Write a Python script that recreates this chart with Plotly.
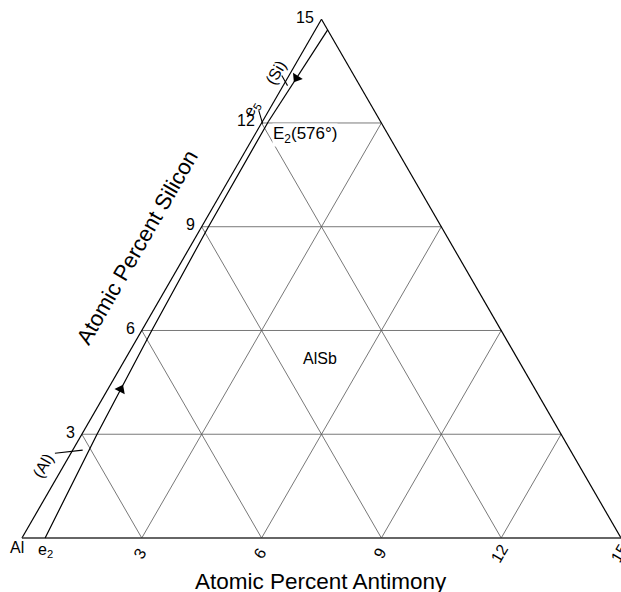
import numpy as np
import plotly.graph_objects as go

# ---------------- data (at.% Sb, at.% Si) ----------------
axis_max = 15
grid_values = [3, 6, 9, 12]
si_tick_values = [3, 6, 9, 12, 15]
si_tick_labels = ["3", "6", "9", "12", "15"]
sb_tick_values = [3, 6, 9, 12, 15]
sb_tick_labels = ["3", "6", "9", "12", "15"]

# univariant valley e2 -> E2
valley_sb = [0.58, 0.38, 0.25, 0.17, 0.15]
valley_si = [0.0, 3.0, 6.0, 9.0, 12.05]
# (Si) valley coming down to E2
si_valley_sb = [0.31, 0.15]
si_valley_si = [14.69, 12.05]
# arrow positions (at.% Si along each valley)
arrow_up_si = 4.3
arrow_down_si = 13.3
# leader lines for labels
al_leader_sb, al_leader_si = [-0.40, 0.25], [2.45, 2.54]
si_leader_sb, si_leader_si = [-0.18, 0.11], [13.37, 13.08]
e5_leader_sb, e5_leader_si = [-0.25, 0.035], [12.36, 11.98]

SQ3 = np.sqrt(3) / 2


def tern(sb, si):
    sb = np.asarray(sb, dtype=float)
    si = np.asarray(si, dtype=float)
    return sb + si / 2.0, si * SQ3


fig = go.Figure()

# grid lattice
gx, gy = [], []
for k in grid_values:
    for seg in [((0, k), (axis_max - k, k)),      # constant Si
                ((k, 0), (k, axis_max - k)),      # constant Sb
                ((k, 0), (0, k))]:                # constant Al
        x, y = tern([seg[0][0], seg[1][0]], [seg[0][1], seg[1][1]])
        gx += list(x) + [None]
        gy += list(y) + [None]
fig.add_trace(go.Scatter(x=gx, y=gy, mode="lines",
                         line=dict(color="#555555", width=0.8), hoverinfo="skip"))

# triangle edges
ex, ey = tern([0, axis_max, 0, 0], [0, 0, axis_max, 0])
fig.add_trace(go.Scatter(x=ex[1:3], y=ey[1:3], mode="lines",
                         line=dict(color="black", width=1.2), hoverinfo="skip"))
fig.add_trace(go.Scatter(x=ex[2:4], y=ey[2:4], mode="lines",
                         line=dict(color="black", width=1.2), hoverinfo="skip"))
fig.add_trace(go.Scatter(x=ex[0:2], y=ey[0:2], mode="lines",
                         line=dict(color="#333333", width=1.7), hoverinfo="skip"))

# valleys
vx, vy = tern(valley_sb, valley_si)
fig.add_trace(go.Scatter(x=vx, y=vy, mode="lines",
                         line=dict(color="black", width=1.2), hoverinfo="skip"))
sx, sy = tern(si_valley_sb, si_valley_si)
fig.add_trace(go.Scatter(x=sx, y=sy, mode="lines",
                         line=dict(color="black", width=1.2), hoverinfo="skip"))

# leader lines
for lsb, lsi in [(al_leader_sb, al_leader_si), (si_leader_sb, si_leader_si),
                 (e5_leader_sb, e5_leader_si)]:
    lx, ly = tern(lsb, lsi)
    fig.add_trace(go.Scatter(x=lx, y=ly, mode="lines",
                             line=dict(color="black", width=1.1), hoverinfo="skip"))

# arrows
ua_sb = np.interp(arrow_up_si, valley_si, valley_sb)
ux, uy = tern([ua_sb], [arrow_up_si])
fig.add_trace(go.Scatter(x=ux, y=uy, mode="markers",
                         marker=dict(symbol="triangle-up", size=10, color="black",
                                     angle=27, line=dict(width=0)), hoverinfo="skip"))
da_sb = np.interp(arrow_down_si, si_valley_si[::-1], si_valley_sb[::-1])
dx, dy = tern([da_sb], [arrow_down_si])
fig.add_trace(go.Scatter(x=dx, y=dy, mode="markers",
                         marker=dict(symbol="triangle-down", size=10, color="black",
                                     angle=32, line=dict(width=0)), hoverinfo="skip"))

FONT = "Liberation Sans, Arial, Helvetica, sans-serif"
ann = []


def add_text(text, sb, si, size=16, angle=0, xanchor="center", yanchor="middle",
             xshift=0, yshift=0, bg=None):
    x, y = tern(sb, si)
    d = dict(text=text, x=float(x), y=float(y), xref="x", yref="y", showarrow=False,
             font=dict(family=FONT, size=size, color="black"), textangle=angle,
             xanchor=xanchor, yanchor=yanchor, xshift=xshift, yshift=yshift)
    if bg:
        d["bgcolor"] = bg
        d["borderpad"] = 0
    ann.append(d)


for v, lab in zip(si_tick_values, si_tick_labels):
    add_text(lab, 0, v, xanchor="right", xshift=-5, yshift=2)
for v, lab in zip(sb_tick_values, sb_tick_labels):
    add_text(lab, v, 0, angle=-60, xshift=-2, yshift=-15)

add_text("Al", 0, 0, xshift=-5, yshift=-9)
add_text("e<sub>2</sub>", valley_sb[0], 0, xshift=0, yshift=-12)
add_text("AlSb", 4.86, 5.2)
add_text("E<sub>2</sub>(576°)", 1.25, 11.65, size=17, bg="white")
add_text("e<sub>5</sub>", -0.45, 12.42, angle=-60)
add_text("(Si)", -0.38, 13.47, angle=-60)
add_text("(Al)", -0.53, 2.11, angle=-60)
add_text("Atomic Percent Antimony", 7.5, 0, size=22.5, yshift=-43)
add_text("Atomic Percent Silicon", -1.33, 8.41, size=22, angle=-60)

S = 621 / 15.55
fig.update_layout(
    width=621, height=592, autosize=False,
    margin=dict(l=0, r=0, t=0, b=0),
    paper_bgcolor="white", plot_bgcolor="white",
    showlegend=False,
    xaxis=dict(range=[-0.55, 15.0], visible=False, fixedrange=True),
    yaxis=dict(range=[-(592 - 538) / S, 538 / S], visible=False, fixedrange=True),
    annotations=ann,
)

fig.write_html("out.html",
               config={"displayModeBar": False},
               post_script="document.body.style.margin='0';"
                           "document.body.style.overflow='hidden';")
